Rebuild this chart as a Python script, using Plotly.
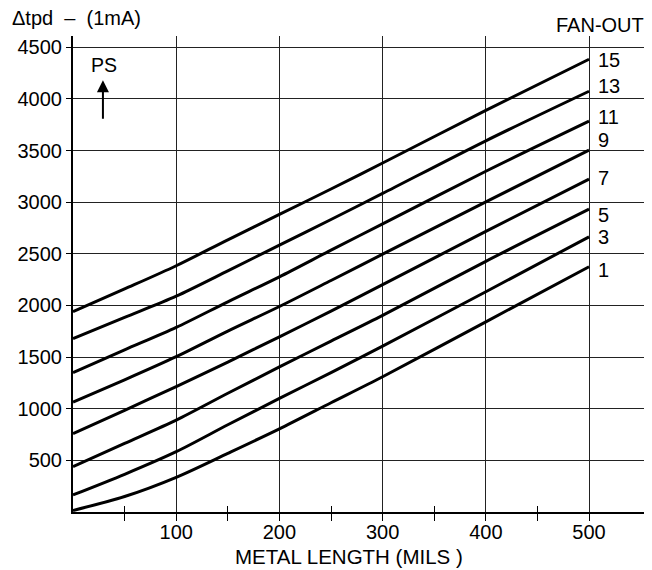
import plotly.graph_objects as go

# ---- data ----
length_mils = [0, 50, 100, 150, 200, 250, 300, 400, 500]
fan_out = [1, 3, 5, 7, 9, 11, 13, 15]
delay_fo1 = [15, 150, 336, 568, 805, 1058, 1310, 1842, 2375]
delay_fo3 = [165, 365, 584, 845, 1100, 1350, 1607, 2133, 2665]
delay_fo5 = [440, 665, 890, 1150, 1405, 1655, 1904, 2428, 2933]
delay_fo7 = [760, 985, 1215, 1452, 1697, 1945, 2202, 2718, 3224]
delay_fo9 = [1065, 1280, 1504, 1752, 1990, 2242, 2497, 3004, 3504]
delay_fo11 = [1350, 1570, 1788, 2036, 2278, 2536, 2790, 3300, 3785]
delay_fo13 = [1680, 1885, 2090, 2335, 2585, 2833, 3085, 3595, 4075]
delay_fo15 = [1940, 2160, 2385, 2636, 2882, 3128, 3380, 3890, 4385]
series = [delay_fo1, delay_fo3, delay_fo5, delay_fo7,
          delay_fo9, delay_fo11, delay_fo13, delay_fo15]

x_ticks = [100, 200, 300, 400, 500]
x_minor_ticks = [50, 150, 250, 350, 450]
y_ticks = [500, 1000, 1500, 2000, 2500, 3000, 3500, 4000, 4500]

# label vertical nudges (pixels) for the fan-out labels
label_yshift = [-3, 0, -6, 1, 10, 4, 5, -1]

FONT = "Liberation Sans, Arial, Helvetica, sans-serif"

fig = go.Figure()
for fo, ys in zip(fan_out, series):
    fig.add_trace(go.Scatter(
        x=length_mils, y=ys, mode="lines", name=str(fo),
        line=dict(color="black", width=3, shape="spline", smoothing=0.8),
        showlegend=False, hoverinfo="x+y",
    ))

# invisible trace on overlay axis so the inside minor ticks render
fig.add_trace(go.Scatter(x=[0], y=[0], xaxis="x2", mode="markers",
                         marker=dict(opacity=0), showlegend=False,
                         hoverinfo="skip"))

for fo, ys, dy in zip(fan_out, series, label_yshift):
    fig.add_annotation(x=length_mils[-1], y=ys[-1], text=str(fo),
                       showarrow=False, xanchor="left", yanchor="middle",
                       xshift=7, yshift=dy,
                       font=dict(family=FONT, size=20, color="black"))

fig.add_annotation(xref="paper", yref="paper", x=0.989, y=1.023,
                   text="FAN-OUT", showarrow=False, xanchor="right",
                   yanchor="middle",
                   font=dict(family=FONT, size=20, color="black"))
fig.add_annotation(xref="paper", yref="paper", x=-0.108, y=1.038,
                   text="\u0394tpd  \u2013  (1mA)", showarrow=False,
                   xanchor="left", yanchor="middle",
                   font=dict(family=FONT, size=20, color="black"))
fig.add_annotation(x=30.5, y=4326, text="PS", showarrow=False,
                   xanchor="center", yanchor="middle",
                   font=dict(family=FONT, size=19.5, color="black"))
fig.add_annotation(x=29, y=4181, text="", showarrow=True,
                   ax=0, ay=40, axref="pixel", ayref="pixel",
                   arrowhead=2, arrowsize=1.2, arrowwidth=2,
                   arrowcolor="black")
fig.add_annotation(xref="paper", yref="paper", x=0.4767, y=-0.0935,
                   text="METAL LENGTH (MILS )", showarrow=False,
                   xanchor="center", yanchor="middle",
                   font=dict(family=FONT, size=20.5, color="black"))

# page body has an 8px margin, so the figure is sized to end at the window edge
fig.update_layout(
    width=644, height=562,
    margin=dict(l=65, r=0, t=28, b=58),
    paper_bgcolor="white", plot_bgcolor="white",
    font=dict(family=FONT, color="black"),
    xaxis=dict(
        range=[0, 561], tickvals=x_ticks, ticktext=[str(v) for v in x_ticks],
        showgrid=True, gridcolor="#222", gridwidth=1.3,
        showline=True, linecolor="black", linewidth=2,
        ticks="outside", ticklen=7, tickwidth=1.3, tickcolor="black",
        tickfont=dict(family=FONT, size=20, color="black"),
        ticklabelstandoff=-6,
        zeroline=False, fixedrange=True,
        minor=dict(tickvals=x_minor_ticks, ticks="outside", ticklen=7,
                   tickwidth=1.3, tickcolor="black", showgrid=False),
    ),
    xaxis2=dict(
        range=[0, 561], overlaying="x", anchor="y", side="bottom",
        tickvals=x_minor_ticks, ticks="inside", ticklen=6, tickwidth=1.3,
        tickcolor="black", showticklabels=False, showgrid=False,
        showline=False, zeroline=False,
    ),
    yaxis=dict(
        range=[0, 4610], tickvals=y_ticks, ticktext=[str(v) for v in y_ticks],
        showgrid=True, gridcolor="#222", gridwidth=1.3,
        showline=True, linecolor="black", linewidth=2,
        ticks="outside", ticklen=5, tickwidth=1.3, tickcolor="black",
        tickfont=dict(family=FONT, size=20, color="black"),
        zeroline=False, fixedrange=True,
    ),
)

fig.write_html("out.html")
